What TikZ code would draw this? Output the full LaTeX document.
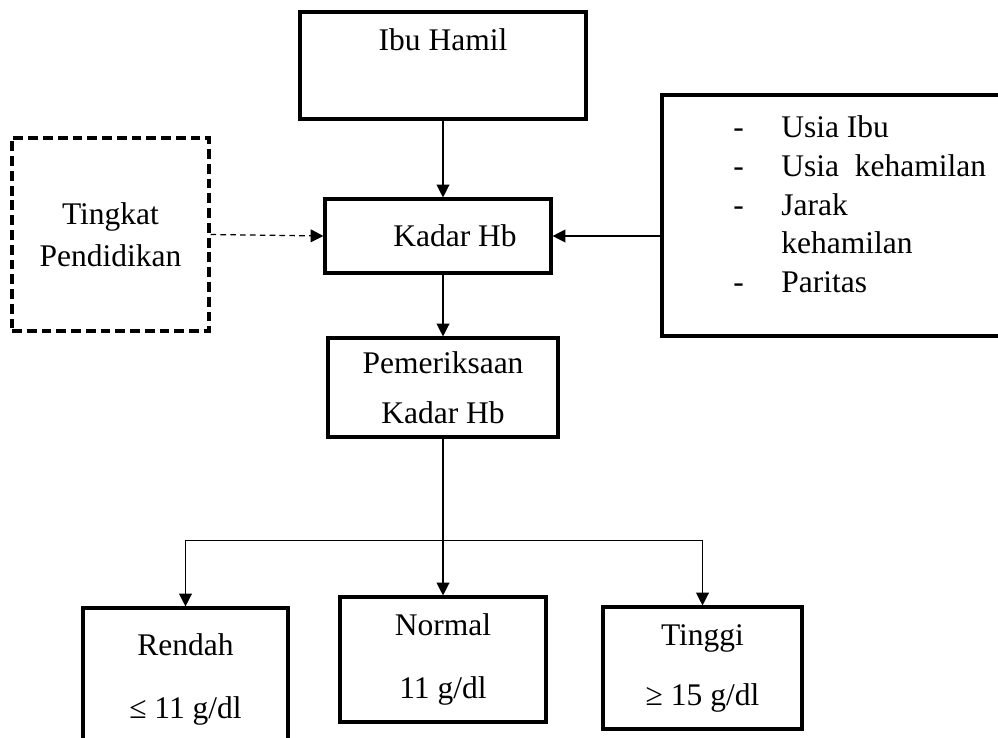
\documentclass[tikz,border=0pt]{standalone}
\usepackage{fontspec}
\setmainfont{Liberation Serif}
\usepackage{tikz}
\usetikzlibrary{arrows.meta,positioning,calc}
\definecolor{ink}{HTML}{000000}
\tikzset{
  box/.style={draw=ink,line width=2.2pt,inner sep=0pt,align=center,text=ink,font=\fontsize{22.4}{35.6}\selectfont},
  dashbox/.style={box,dash pattern=on 7pt off 3.5pt},
  resbox/.style={box,font=\fontsize{22.4}{44.8}\selectfont},
  arrow/.style={-{Triangle[length=3.2mm,width=3.2mm]},line width=0.9pt,color=ink},
  dasharrow/.style={arrow,dash pattern=on 4pt off 3pt},
  lbl/.style={font=\fontsize{22.4}{27.7}\selectfont,text=ink,anchor=north west,align=left,inner sep=0pt},
}
\newcommand{\itm}[1]{\makebox[1.2cm][l]{-}#1}
\begin{document}
\begin{tikzpicture}[x=0.025cm,y=-0.025cm]
    \clip (0,0) rectangle (998,737);
    \node[box,minimum width=7.15cm,text height=0.975cm,text depth=1.7cm] (ibu) at (443,65.5) {Ibu Hamil};
    \node[box,minimum width=5.65cm,minimum height=1.85cm] (kadar) at (438,236) {\hspace*{0.85cm}Kadar Hb};
    \node[box,minimum width=5.75cm,minimum height=2.475cm] (pem) at (443,387.5) {Pemeriksaan\\Kadar Hb};
    \node[dashbox,minimum width=4.925cm,minimum height=4.825cm,font=\fontsize{22.4}{29.9}\selectfont] (pend) at (110.5,234.5) {Tingkat\\Pendidikan};
    \node[box,minimum width=8.7cm,minimum height=6.025cm] (faktor) at (836,215.5) {};
    \node[lbl] (faktortxt) at (733,115) {\itm{Usia Ibu}\\\itm{Usia~ kehamilan}\\\itm{Jarak}\\\makebox[1.2cm]{}kehamilan\\\itm{Paritas}};
    \node[resbox,minimum width=5.125cm,minimum height=3.55cm] (rendah) at (185.5,679) {Rendah\\≤ 11 g/dl};
    \node[resbox,minimum width=5.15cm,minimum height=3.125cm] (normal) at (443,659.5) {Normal\\11 g/dl};
    \node[resbox,minimum width=4.975cm,minimum height=3.05cm,font=\fontsize{22.4}{42.7}\selectfont] (tinggi) at (702.5,668) {Tinggi\\≥ 15 g/dl};
    \coordinate (bar) at ($(pem.south)+(0,102)$);
    \draw[arrow] (ibu.south) -- (ibu.south |- kadar.north);
    \draw[arrow] (kadar.south -| pem.north) -- (pem.north);
    \draw[dasharrow] (pend.east) -- (kadar.west);
    \draw[arrow] (faktor.west |- kadar.east) -- (kadar.east);
    \draw[line width=0.9pt] (pem.south) -- (bar);
    \draw[arrow] (bar) -| (rendah.north);
    \draw[arrow] (bar) -- (bar |- normal.north);
    \draw[arrow] (bar) -| (tinggi.north);
  \end{tikzpicture}
\end{document}
